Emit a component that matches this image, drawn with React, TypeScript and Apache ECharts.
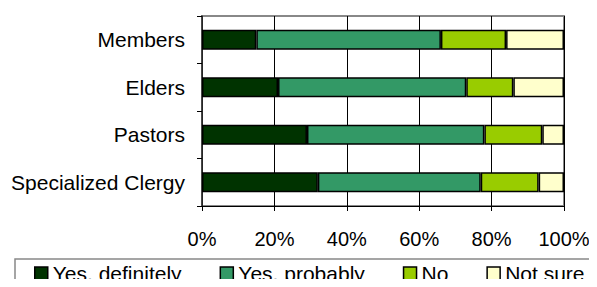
import React, { useEffect, useRef } from "react";
import * as echarts from "echarts";

const categories = ["Members", "Elders", "Pastors", "Specialized Clergy"];
const seriesNames = ["Yes, definitely", "Yes, probably", "No", "Not sure"];
const yesDefinitely = [15, 21, 29, 32];
const yesProbably = [51, 52, 49, 45];
const no = [18, 13, 16, 16];
const notSure = [16, 14, 6, 7];
const colors = ["#003300", "#339966", "#99CC00", "#FFFFCC"];
const xTicks = [0, 20, 40, 60, 80, 100];

export default function App() {
  const ref = useRef<HTMLDivElement>(null);
  useEffect(() => {
    const chart = echarts.init(ref.current!, null, { renderer: "svg" });
    const values = [yesDefinitely, yesProbably, no, notSure];
    const font = "Arial, 'Liberation Sans', sans-serif";
    chart.setOption({
      animation: false,
      textStyle: { fontFamily: font },
      grid: {
        left: 202,
        right: 33,
        top: 16,
        bottom: 81,
        show: true,
        borderColor: "#888888",
        borderWidth: 2,
      },
      xAxis: {
        type: "value",
        min: xTicks[0],
        max: xTicks[xTicks.length - 1],
        interval: 20,
        axisLine: { show: true, lineStyle: { color: "#000", width: 1 } },
        axisTick: { show: true, length: 5, lineStyle: { color: "#000" } },
        splitLine: { show: true, lineStyle: { color: "#000", width: 1 } },
        axisLabel: {
          formatter: "{value}%",
          color: "#000",
          fontSize: 20,
          margin: 23,
          fontFamily: font,
        },
      },
      yAxis: {
        type: "category",
        data: categories,
        inverse: true,
        axisLine: { show: true, lineStyle: { color: "#333", width: 1.5 } },
        axisTick: { show: true, length: 5, lineStyle: { color: "#000" } },
        axisLabel: { color: "#000", fontSize: 21, margin: 17, fontFamily: font },
      },
      legend: {
        left: 34,
        top: 263,
        padding: 0,
        itemWidth: 13,
        itemHeight: 13,
        itemGap: 38,
        icon: "rect",
        textStyle: { color: "#000", fontSize: 21, lineHeight: 21, fontFamily: font },
        data: seriesNames.map((n, i) => ({
          name: n,
          itemStyle: { color: colors[i], borderColor: "#000", borderWidth: 1.5 },
        })),
      },
      graphic: [
        {
          type: "rect",
          shape: { x: 15, y: 259, width: 620, height: 60 },
          style: { fill: "none", stroke: "#888888", lineWidth: 1.5 },
          silent: true,
        },
      ],
      series: seriesNames.map((n, i) => ({
        name: n,
        type: "bar",
        stack: "total",
        barWidth: 20,
        data: values[i],
        itemStyle: { color: colors[i], borderColor: "#000", borderWidth: 1.5 },
      })),
    });
    return () => chart.dispose();
  }, []);
  return <div ref={ref} style={{ width: 597, height: 287, margin: -8 }} />;
}
